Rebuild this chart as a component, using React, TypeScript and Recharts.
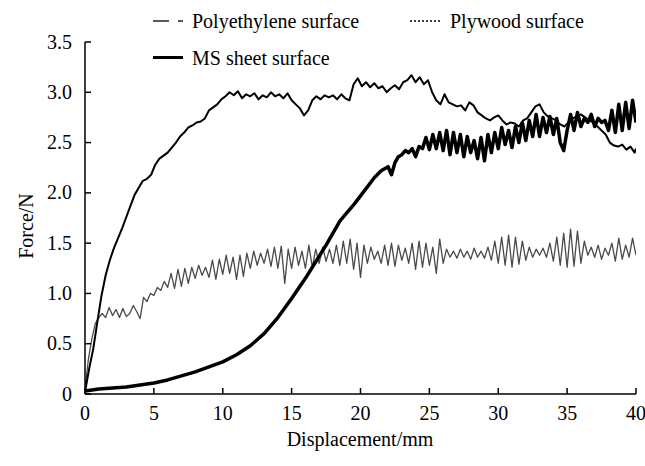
import React from 'react';
import { LineChart, Line, XAxis, YAxis, Customized } from 'recharts';

const FONT = '"Liberation Serif", "Times New Roman", Times, serif';

const seriesNames = ['Polyethylene surface', 'Plywood surface', 'MS sheet surface'];
const xTicks = [0, 5, 10, 15, 20, 25, 30, 35, 40];
const yTicks = [0, 0.5, 1.0, 1.5, 2.0, 2.5, 3.0, 3.5];

// Polyethylene (upper thin curve), sampled every 0.3 mm, last point at 40
const polyStep = 0.3;
const polyY = [
  0.02, 0.25, 0.45, 0.72, 0.98, 1.18, 1.33, 1.45, 1.55, 1.65,
  1.76, 1.87, 1.98, 2.05, 2.12, 2.14, 2.18, 2.28, 2.34, 2.37,
  2.40, 2.45, 2.50, 2.56, 2.60, 2.65, 2.67, 2.70, 2.71, 2.74,
  2.82, 2.85, 2.88, 2.93, 2.96, 3.00, 2.97, 3.01, 2.94, 2.98,
  2.96, 2.99, 2.93, 2.97, 2.95, 3.00, 2.96, 2.98, 2.94, 2.99,
  2.92, 2.88, 2.84, 2.77, 2.82, 2.92, 2.96, 2.93, 2.97, 2.95,
  2.97, 2.93, 2.98, 2.94, 2.92, 3.08, 3.14, 3.06, 3.10, 3.05,
  3.09, 3.04, 3.06, 3.00, 3.04, 3.07, 3.03, 3.10, 3.12, 3.17,
  3.10, 3.15, 3.08, 3.12, 3.00, 2.92, 2.88, 2.98, 2.90, 2.88,
  2.86, 2.87, 2.82, 2.90, 2.87, 2.80, 2.77, 2.74, 2.72, 2.75,
  2.77, 2.72, 2.68, 2.70, 2.69, 2.66, 2.72, 2.74, 2.80, 2.86,
  2.88, 2.80, 2.76, 2.74, 2.72, 2.68, 2.66, 2.70, 2.74, 2.76,
  2.78, 2.75, 2.72, 2.70, 2.66, 2.62, 2.58, 2.50, 2.47, 2.46,
  2.48, 2.43, 2.46, 2.40,
];
const polyEnd = { x: 40, y: 2.44 };

// Plywood (grey oscillating curve), sampled every 0.25 mm
const plyStep = 0.25;
const plyY = [
  0.05, 0.35, 0.55, 0.70, 0.76, 0.80, 0.76, 0.86, 0.78, 0.84,
  0.76, 0.85, 0.77, 0.80, 0.88, 0.82, 0.75, 0.96, 0.92, 1.00,
  0.98, 1.06, 1.03, 1.12, 1.06, 1.20, 1.05, 1.24, 1.07, 1.25,
  1.10, 1.26, 1.15, 1.28, 1.18, 1.26, 1.16, 1.33, 1.14, 1.34,
  1.19, 1.38, 1.20, 1.36, 1.14, 1.38, 1.17, 1.40, 1.25, 1.42,
  1.28, 1.40, 1.30, 1.44, 1.27, 1.46, 1.25, 1.47, 1.10, 1.44,
  1.25, 1.46, 1.28, 1.42, 1.25, 1.48, 1.26, 1.44, 1.30, 1.46,
  1.32, 1.44, 1.30, 1.48, 1.28, 1.52, 1.30, 1.54, 1.24, 1.50,
  1.16, 1.48, 1.30, 1.46, 1.34, 1.42, 1.30, 1.48, 1.28, 1.50,
  1.27, 1.48, 1.33, 1.45, 1.30, 1.50, 1.24, 1.52, 1.26, 1.50,
  1.28, 1.46, 1.20, 1.54, 1.30, 1.44, 1.36, 1.42, 1.35, 1.44,
  1.36, 1.42, 1.34, 1.45, 1.36, 1.42, 1.35, 1.46, 1.33, 1.52,
  1.30, 1.56, 1.28, 1.58, 1.26, 1.56, 1.29, 1.52, 1.33, 1.46,
  1.36, 1.44, 1.38, 1.45, 1.36, 1.50, 1.32, 1.56, 1.28, 1.60,
  1.26, 1.64, 1.27, 1.62, 1.30, 1.52, 1.38, 1.46, 1.36, 1.48,
  1.34, 1.45, 1.38, 1.50, 1.32, 1.55, 1.34, 1.48, 1.36, 1.55,
  1.38,
];

// MS sheet (thick curve)
const msX = [
  0, 1, 2, 3, 4, 5, 6, 7, 8, 9, 10, 11, 12, 13, 14, 15, 16, 17, 17.5, 18,
  18.5, 19, 19.5, 20, 20.5, 21, 21.5, 22, 22.25, 22.5, 22.75, 23, 23.25, 23.5, 23.75, 24,
  24.25, 24.5, 24.75, 25, 25.25, 25.5, 25.75, 26, 26.25, 26.5, 26.75, 27, 27.25, 27.5,
  27.75, 28, 28.25, 28.5, 28.75, 29, 29.25, 29.5, 29.75, 30, 30.25, 30.5, 30.75, 31,
  31.25, 31.5, 31.75, 32, 32.25, 32.5, 32.75, 33, 33.25, 33.5, 33.75, 34, 34.25, 34.5,
  34.75, 35, 35.25, 35.5, 35.75, 36, 36.25, 36.5, 36.75, 37, 37.25, 37.5, 37.75, 38,
  38.25, 38.5, 38.75, 39, 39.25, 39.5, 39.75, 40,
];
const msY = [
  0.03, 0.05, 0.06, 0.07, 0.09, 0.11, 0.14, 0.18, 0.22, 0.27, 0.32, 0.39, 0.48, 0.60, 0.76, 0.95, 1.15, 1.37, 1.48, 1.60,
  1.72, 1.80, 1.88, 1.97, 2.06, 2.15, 2.22, 2.26, 2.18, 2.30, 2.36, 2.38, 2.42, 2.40, 2.44, 2.36,
  2.46, 2.44, 2.55, 2.43, 2.58, 2.44, 2.60, 2.42, 2.62, 2.38, 2.60, 2.40, 2.58, 2.36,
  2.56, 2.40, 2.52, 2.34, 2.55, 2.32, 2.58, 2.40, 2.60, 2.44, 2.65, 2.48, 2.62, 2.45,
  2.66, 2.50, 2.70, 2.52, 2.72, 2.56, 2.78, 2.56, 2.75, 2.60, 2.76, 2.58, 2.74, 2.50,
  2.42, 2.62, 2.78, 2.62, 2.80, 2.66, 2.74, 2.70, 2.78, 2.66, 2.74, 2.70, 2.72, 2.62,
  2.82, 2.60, 2.88, 2.62, 2.90, 2.64, 2.92, 2.70,
];

const polyData = [
  ...polyY.map((y, i) => ({ x: +(i * polyStep).toFixed(2), y })),
  polyEnd,
];
const plyData = plyY.map((y, i) => ({ x: +(i * plyStep).toFixed(2), y }));
const msData = msX.map((x, i) => ({ x, y: msY[i] }));

const XTick = (props: any) => {
  const { x, y, payload } = props;
  return (
    <g>
      <line x1={x} x2={x} y1={y} y2={y - 6} stroke="#000" strokeWidth={1.5} />
      <text x={x} y={y + 26} textAnchor="middle" fontSize={20} fontFamily={FONT} fill="#000">
        {payload.value}
      </text>
    </g>
  );
};

const YTick = (props: any) => {
  const { x, y, payload } = props;
  const v = payload.value === 0 ? '0' : Number(payload.value).toFixed(1);
  return (
    <g>
      <line x1={x} x2={x + 6} y1={y} y2={y} stroke="#000" strokeWidth={1.5} />
      <text x={x - 13} y={y + 6.5} textAnchor="end" fontSize={20} fontFamily={FONT} fill="#000">
        {v}
      </text>
    </g>
  );
};

const LegendAndTitles = () => (
  <g fontFamily={FONT} fontSize={20} fill="#000">
    <line x1={153} x2={169} y1={21} y2={21} stroke="#000" strokeWidth={1.3} />
    <line x1={178} x2={183} y1={21} y2={21} stroke="#000" strokeWidth={1.3} />
    <text x={192} y={28}>{seriesNames[0]}</text>
    <line x1={410} x2={440} y1={21} y2={21} stroke="#000" strokeWidth={1.3} strokeDasharray="2 2" />
    <text x={450} y={28}>{seriesNames[1]}</text>
    <line x1={153} x2={183} y1={57.5} y2={57.5} stroke="#000" strokeWidth={3} />
    <text x={192} y={65}>{seriesNames[2]}</text>
    <text x={360} y={446} textAnchor="middle">Displacement/mm</text>
    <text x={26} y={226} textAnchor="middle" dominantBaseline="central" transform="rotate(-90 26 226)">Force/N</text>
  </g>
);

export default function App() {
  return (
    <div style={{ position: 'absolute', left: 0, top: 0, background: '#fff' }}>
      <LineChart width={645} height={466} margin={{ top: 42, right: 9, left: 25, bottom: 42 }}>
        <XAxis
          type="number"
          dataKey="x"
          domain={[0, 40]}
          ticks={xTicks}
          allowDataOverflow
          height={30}
          tickSize={0}
          tickMargin={0}
          tickLine={false}
          axisLine={{ stroke: '#000', strokeWidth: 1.5 }}
          tick={<XTick />}
          interval={0}
        />
        <YAxis
          type="number"
          domain={[0, 3.5]}
          ticks={yTicks}
          allowDataOverflow
          width={60}
          tickSize={0}
          tickMargin={0}
          tickLine={false}
          axisLine={{ stroke: '#000', strokeWidth: 1.5 }}
          tick={<YTick />}
          interval={0}
        />
        <Line
          data={plyData}
          dataKey="y"
          type="linear"
          stroke="#4a4a4a"
          strokeWidth={1.3}
          dot={false}
          isAnimationActive={false}
          strokeLinejoin="round"
        />
        <Line
          data={polyData}
          dataKey="y"
          type="linear"
          stroke="#000"
          strokeWidth={2}
          dot={false}
          isAnimationActive={false}
          strokeLinejoin="round"
        />
        <Line
          data={msData}
          dataKey="y"
          type="linear"
          stroke="#000"
          strokeWidth={3.5}
          dot={false}
          isAnimationActive={false}
          strokeLinejoin="round"
        />
        <Customized component={LegendAndTitles} />
      </LineChart>
    </div>
  );
}
